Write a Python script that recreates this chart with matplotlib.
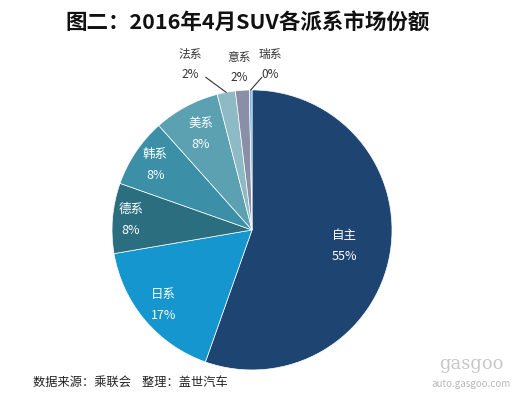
import matplotlib.pyplot as plt
import numpy as np

plt.rcParams['font.family'] = ['Noto Sans CJK SC', 'DejaVu Sans']

# market share by origin, April 2016 SUV
names = ['自主', '日系', '德系', '韩系', '美系', '法系', '意系', '瑞系']
shares = [55.4, 16.9, 8.1, 8.0, 7.6, 2.1, 1.6, 0.3]
pct_labels = ['55%', '17%', '8%', '8%', '8%', '2%', '2%', '0%']
colors = ['#1e4571', '#1596cf', '#2b6e80', '#3b90a7', '#5ba1b2',
          '#8dbac4', '#8a8ea7', '#72b6e4']

fig = plt.figure(figsize=(5.15, 3.94), dpi=100)
ax = fig.add_axes([0.2175, 0.061, 0.5437, 0.7107])

wedges, _ = ax.pie(shares, colors=colors, startangle=90, counterclock=False,
                   wedgeprops=dict(edgecolor='white', linewidth=0.5))
ax.set_xlim(-1, 1)
ax.set_ylim(-1, 1)
ax.set_aspect('equal')
ax.axis('off')

# inside labels: distance from centre for each of the big slices
inner_r = [0.67, 0.83, 0.87, 0.83, 0.78]
for i, r in enumerate(inner_r):
    w = wedges[i]
    a = np.deg2rad((w.theta1 + w.theta2) / 2)
    x, y = r * np.cos(a), r * np.sin(a)
    ax.text(x, y, names[i] + '\n' + pct_labels[i], ha='center', va='center',
            color='white', fontsize=9, linespacing=1.8)

# small slices: labels above the pie with leader lines
outer_pos = [(-0.44, 1.18), (-0.09, 1.16), (0.13, 1.18)]
line_ends = [(-0.33, 1.09), None, (0.07, 1.09)]
for k, (pos, end) in enumerate(zip(outer_pos, line_ends)):
    i = 5 + k
    w = wedges[i]
    a = np.deg2rad((w.theta1 + w.theta2) / 2)
    ax.text(pos[0], pos[1], names[i] + '\n' + pct_labels[i], ha='center',
            va='center', color='#333333', fontsize=8.5, linespacing=1.7)
    if end is not None:
        ax.plot([end[0], np.cos(a) * 1.0], [end[1], np.sin(a) * 1.0],
                color='#333333', linewidth=0.8, clip_on=False)

fig.text(0.48, 0.942, '图二：2016年4月SUV各派系市场份额', ha='center',
         va='center', fontsize=15.5, fontweight='bold', color='#111111')

fig.text(0.064, 0.03, '数据来源：乘联会    整理：盖世汽车', ha='left',
         va='center', fontsize=8.8, color='#222222')

# watermark
fig.text(0.915, 0.075, 'gasgoo', ha='center', va='center', fontsize=13,
         color='#c8c8c8', family='DejaVu Serif')
fig.text(0.915, 0.025, 'auto.gasgoo.com', ha='center', va='center',
         fontsize=7, color='#b8b8b8')

fig.savefig('out.png', dpi=100)
